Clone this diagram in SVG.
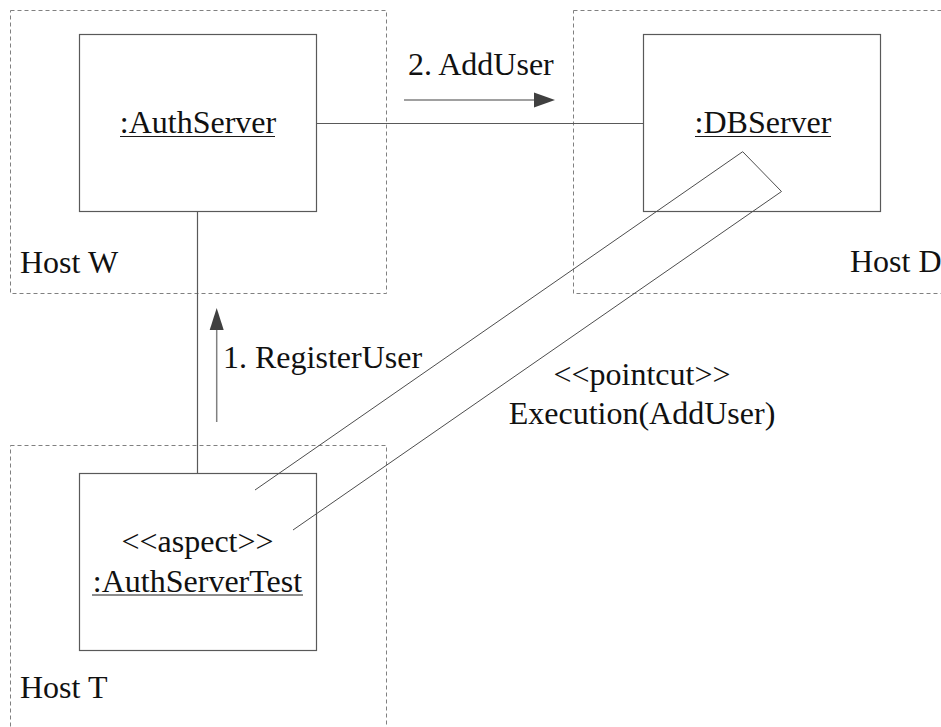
<svg xmlns="http://www.w3.org/2000/svg" width="941" height="727" viewBox="0 0 941 727" font-family="'Liberation Serif', 'Times New Roman', Times, serif">
  <style>
    .host { fill: none; stroke: #808080; stroke-width: 1; stroke-dasharray: 4 3; }
    .obj { fill: #ffffff; stroke: #595959; stroke-width: 1.2; }
    .link { fill: none; stroke: #595959; stroke-width: 1.2; }
    .band { fill: none; stroke: #4d4d4d; stroke-width: 1; }
    .ul { stroke: #1a1a1a; stroke-width: 1.2; }
    .msg { stroke: #808080; stroke-width: 1.5; }
    .head { fill: #404040; }
    .t { font-family: 'Liberation Serif', 'Times New Roman', Times, serif; font-size: 32px; fill: #111111; }
    .c { text-anchor: middle; }
  </style>
  <rect width="941" height="727" fill="#ffffff"/>

  <!-- deployment hosts -->
  <g id="hostW">
    <rect class="host" x="10.5" y="10.5" width="376" height="283"/>
    <text class="t" x="20" y="273">Host W</text>
  </g>
  <g id="hostD">
    <rect class="host" x="573.5" y="10.5" width="380" height="283"/>
    <text class="t" x="850" y="272">Host D</text>
  </g>
  <g id="hostT">
    <rect class="host" x="10.5" y="445.5" width="376" height="300"/>
    <text class="t" x="20" y="698">Host T</text>
  </g>

  <!-- objects -->
  <g id="authServer">
    <rect class="obj" x="79.5" y="34.5" width="237" height="177"/>
    <text class="t c" x="198" y="133">:AuthServer</text>
    <line class="ul" x1="120" y1="136.5" x2="275" y2="136.5"/>
  </g>
  <g id="dbServer">
    <rect class="obj" x="643.5" y="34.5" width="237" height="177"/>
    <text class="t c" x="763" y="133">:DBServer</text>
    <line class="ul" x1="695" y1="136.5" x2="831" y2="136.5"/>
  </g>
  <g id="authServerTest">
    <rect class="obj" x="79.5" y="473.5" width="237" height="177"/>
    <text class="t c" x="197.5" y="552">&lt;&lt;aspect&gt;&gt;</text>
    <text class="t c" x="197.5" y="591.5">:AuthServerTest</text>
    <line class="ul" x1="92" y1="595" x2="303" y2="595"/>
  </g>

  <!-- links, messages and the pointcut band -->
  <g id="connectors">
    <line class="link" x1="316" y1="123.5" x2="643" y2="123.5"/>
    <line class="link" x1="197.5" y1="211" x2="197.5" y2="473"/>
    <polyline class="band" points="255,490 742.7,151.7 781.5,191.5 293,530"/>

    <!-- 1. RegisterUser -->
    <line class="msg" x1="216.7" y1="422" x2="216.7" y2="328"/>
    <polygon class="head" points="216.7,308 223.7,330 209.7,330"/>
    <text class="t" x="223" y="368">1. RegisterUser</text>

    <!-- 2. AddUser -->
    <line class="msg" x1="404" y1="100" x2="536" y2="100"/>
    <polygon class="head" points="555,100 534,92.5 534,107.5"/>
    <text class="t" x="408" y="75">2. AddUser</text>

    <!-- pointcut label -->
    <text class="t c" x="642" y="385">&lt;&lt;pointcut&gt;&gt;</text>
    <text class="t c" x="642" y="424">Execution(AddUser)</text>
  </g>
</svg>
